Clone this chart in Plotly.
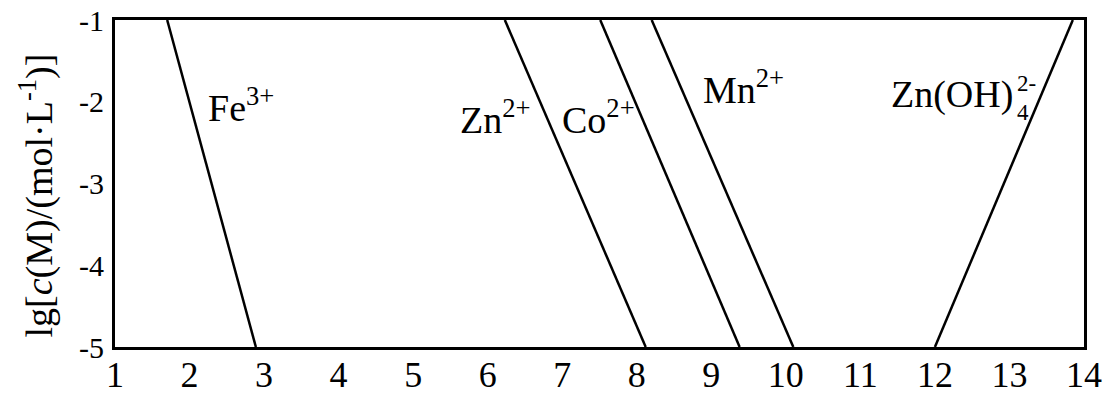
import plotly.graph_objects as go

# pH where each ion sits at lg c = -1 (top) and lg c = -5 (bottom)
ions = ["Fe3+", "Zn2+", "Co2+", "Mn2+", "Zn(OH)4 2-"]
ph_top = [1.7, 6.23, 7.51, 8.2, 13.85]
ph_bottom = [2.89, 8.12, 9.38, 10.1, 12.0]
lgc_top = -1
lgc_bottom = -5

x_ticks = list(range(1, 15))
y_ticks = [-1, -2, -3, -4, -5]
y_tick_text = ["-1", "-2", "-3", "-4", "-5"]

FONT = "Liberation Serif"

fig = go.Figure()

for ion, x0, x1 in zip(ions, ph_top, ph_bottom):
    fig.add_trace(go.Scatter(
        x=[x0, x1], y=[lgc_top, lgc_bottom],
        mode="lines", name=ion,
        line=dict(color="black", width=2.5),
        showlegend=False, cliponaxis=False,
    ))

# ion labels (text, x, y) -- left edge / just under baseline
labels = [
    ("Fe<sup>3+</sup>", 2.22, -2.36),
    ("Zn<sup>2+</sup>", 5.60, -2.50),
    ("Co<sup>2+</sup>", 6.97, -2.50),
    ("Mn<sup>2+</sup>", 8.86, -2.14),
    ("Zn(OH)", 11.38, -2.20),
]
for txt, x, y in labels:
    fig.add_annotation(x=x, y=y, text=txt, showarrow=False,
                       xanchor="left", yanchor="bottom",
                       font=dict(family=FONT, size=38, color="black"))

# stacked sub/superscript for Zn(OH)4 2-
fig.add_annotation(x=13.08, y=-1.95, text="2-", showarrow=False,
                   xanchor="left", yanchor="bottom",
                   font=dict(family=FONT, size=23, color="black"))
fig.add_annotation(x=13.08, y=-1.95, text="4", showarrow=False,
                   xanchor="left", yanchor="top",
                   font=dict(family=FONT, size=23, color="black"))

# y title as a rotated annotation so it can sit a bit below centre
fig.add_annotation(xref="paper", yref="paper", x=0, y=0.5,
                   xshift=-78, yshift=-12, textangle=-90,
                   text="lg[<i>c</i>(M)/(mol·L<sup>-1</sup>)]", showarrow=False,
                   xanchor="center", yanchor="middle",
                   font=dict(family=FONT, size=38, color="black"))

fig.update_xaxes(
    range=[1, 14], tickvals=x_ticks, ticks="",
    showline=True, mirror=True, linecolor="black", linewidth=3,
    showgrid=False, zeroline=False, ticklabelstandoff=-6, automargin=False,
    tickfont=dict(family=FONT, size=36, color="black"),
)
fig.update_yaxes(
    range=[-5, -1], tickvals=y_ticks, ticktext=y_tick_text, ticks="",
    showline=True, mirror=True, linecolor="black", linewidth=3,
    showgrid=False, zeroline=False, ticklabelstandoff=2, automargin=False,
    tickfont=dict(family=FONT, size=30, color="black"),
)

fig.update_layout(
    width=1106, height=397,
    margin=dict(l=115, r=22, t=20, b=50),
    plot_bgcolor="white", paper_bgcolor="white",
    font=dict(family=FONT, color="black"),
)

# drop the default 8px body margin so the figure fills the window exactly
fig.write_html("out.html", config={"displayModeBar": False},
               post_script="document.body.style.margin='0';")
